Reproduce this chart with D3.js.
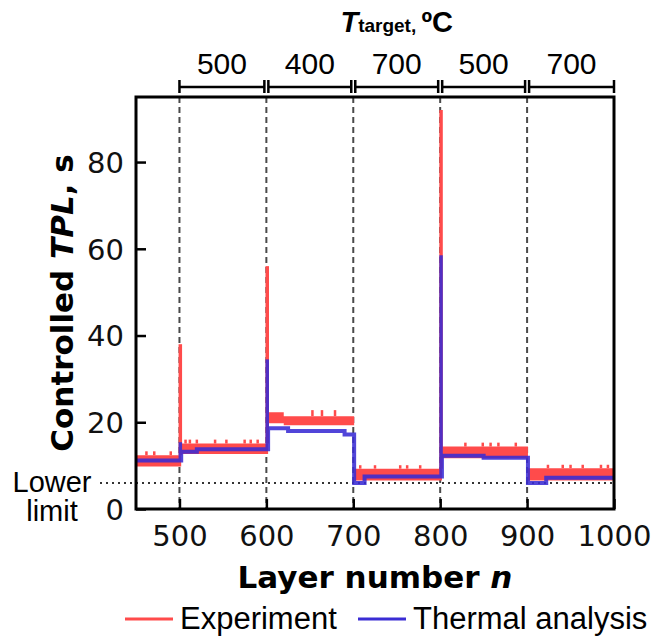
<!DOCTYPE html>
<html>
<head>
<meta charset="utf-8">
<script src="https://cdn.jsdelivr.net/npm/d3@7"></script>
<style>
  body { margin: 0; background: #fff; }
  svg { display: block; }
  .tick text { font-family: "DejaVu Sans", sans-serif; font-size: 29px; fill: #111; }
  .tick line { stroke: #000; stroke-width: 2.5; }
</style>
</head>
<body>
<div id="chart"></div>
<script>
// ---- data ----
// target temperature blocks (layer boundaries, temperature in each block)
var blockBounds = [500, 600, 700, 800, 900, 1000];
var blockTemps = [500, 400, 700, 500, 700];

// experiment: scatter band per block (start layer, lower, upper)
var expStart = [450, 502, 602, 620, 701, 802, 901];
var expLow   = [9.8, 12.7, 19.8, 19.3, 6.6, 11.7, 6.6];
var expHigh  = [12.4, 15.1, 22.3, 21.4, 9.3, 14.4, 9.4];
// small upward excursions of the experimental TPL
var expSpikeN   = [462, 471, 490, 507, 512, 520, 541, 554, 575, 582, 590, 653, 664, 679, 708, 725, 754, 762, 777, 829, 849, 858, 867, 887, 924, 941, 950, 964, 985, 993];
var expSpikeVal = [13.3, 13.3, 13.3, 16.0, 16.0, 16.0, 16.0, 16.0, 16.0, 16.0, 16.0, 22.8, 22.8, 22.8, 10.1, 10.1, 10.1, 10.1, 10.1, 15.3, 15.3, 15.3, 15.3, 15.3, 10.2, 10.2, 10.2, 10.2, 10.2, 10.2];

// first layer after a temperature change: peaks
var peakN    = [501, 601, 801];
var expPeak  = [38, 56, 92];
var thPeak   = [15.4, 34.5, 58.5];

// thermal analysis: step values (start layer, TPL)
var thStart = [450, 502, 520, 602, 625, 690, 701, 713, 802, 850, 901, 922];
var thValue = [11.2, 13.2, 13.8, 18.6, 18.0, 17.2, 6.0, 7.5, 12.3, 11.8, 6.0, 7.2];

var lowerLimit = 6;
var xTicks = [500, 600, 700, 800, 900, 1000];
var yTicks = [0, 20, 40, 60, 80];

var redColor = '#ff4b4b';
var blueColor = '#3a2cd4';

//note: window.top is read-only so keep plot box in its own object
var box = {width: 657, height: 638, left: 136, right: 614, top: 97, bottom: 509};

var svg = d3.select('#chart').append('svg')
  .attr('width', box.width)
  .attr('height', box.height);

var x = d3.scaleLinear().domain([450, 1000]).range([box.left, box.right]);
var y = d3.scaleLinear().domain([0, 95]).range([box.bottom, box.top]);

//block boundaries as dashed lines
svg.append('g').selectAll('line')
  .data(blockBounds.slice(0, -1))
  .join('line')
  .attr('x1', function (d) { return x(d); })
  .attr('x2', function (d) { return x(d); })
  .attr('y1', box.top)
  .attr('y2', box.bottom)
  .attr('stroke', '#4a4a4a')
  .attr('stroke-width', 2)
  .attr('stroke-dasharray', '6,4');

//lower limit dotted line, starts right after the "Lower" text
svg.append('line')
  .attr('x1', 100)
  .attr('x2', box.right)
  .attr('y1', y(lowerLimit))
  .attr('y2', y(lowerLimit))
  .attr('stroke', '#333')
  .attr('stroke-width', 2.2)
  .attr('stroke-dasharray', '2,4');

// experiment band
var expPts = expStart.map(function (n, i) { return {n: n, lo: expLow[i], hi: expHigh[i]}; });
expPts.push({n: 1000, lo: expLow[expLow.length - 1], hi: expHigh[expHigh.length - 1]});

var band = d3.area()
  .curve(d3.curveStepAfter)
  .x(function (d) { return x(d.n); })
  .y0(function (d) { return y(d.lo); })
  .y1(function (d) { return y(d.hi); });

svg.append('path')
  .datum(expPts)
  .attr('d', band)
  .attr('fill', redColor);

//little spikes above the band
function bandTop(n) {
  var i = d3.bisectRight(expStart, n) - 1;
  return expHigh[Math.max(i, 0)];
}
svg.append('g').selectAll('line')
  .data(expSpikeN)
  .join('line')
  .attr('x1', function (d) { return x(d); })
  .attr('x2', function (d) { return x(d); })
  .attr('y1', function (d) { return y(bandTop(d)); })
  .attr('y2', function (d, i) { return y(expSpikeVal[i]); })
  .attr('stroke', redColor)
  .attr('stroke-width', 2.5);

//big peaks in experiment
svg.append('g').selectAll('line')
  .data(peakN)
  .join('line')
  .attr('x1', function (d) { return x(d); })
  .attr('x2', function (d) { return x(d); })
  .attr('y1', function (d) { return y(bandTop(d - 2)); })
  .attr('y2', function (d, i) { return y(expPeak[i]); })
  .attr('stroke', redColor)
  .attr('stroke-width', 3.5);

// thermal analysis
var thPts = thStart.map(function (n, i) { return {n: n, v: thValue[i]}; });
thPts.push({n: 1000, v: thValue[thValue.length - 1]});

var line = d3.line()
  .curve(d3.curveStepAfter)
  .x(function (d) { return x(d.n); })
  .y(function (d) { return y(d.v); });

var thGroup = svg.append('g').attr('opacity', 0.88);
thGroup.append('path')
  .datum(thPts)
  .attr('d', line)
  .attr('fill', 'none')
  .attr('stroke', blueColor)
  .attr('stroke-width', 4);

thGroup.selectAll('line.peak')
  .data(peakN)
  .join('line')
  .classed('peak', true)
  .attr('x1', function (d) { return x(d); })
  .attr('x2', function (d) { return x(d); })
  .attr('y1', function (d, i) { return y(thValue[d3.bisectRight(thStart, d - 2) - 1]); })
  .attr('y2', function (d, i) { return y(thPeak[i]); })
  .attr('stroke', blueColor)
  .attr('stroke-width', 3.5);

//axes with inward ticks
var xAxis = d3.axisBottom(x).tickValues(xTicks).tickSize(-10).tickPadding(16).tickFormat(d3.format('d'));
var gx = svg.append('g').attr('transform', 'translate(0,' + box.bottom + ')').call(xAxis);
gx.select('.domain').remove();

var yAxis = d3.axisLeft(y).tickValues(yTicks).tickSize(-10).tickPadding(12);
var gy = svg.append('g').attr('transform', 'translate(' + box.left + ',0)').call(yAxis);
gy.select('.domain').remove();
gy.selectAll('.tick text').attr('dy', '0.36em');

//frame
svg.append('rect')
  .attr('x', box.left)
  .attr('y', box.top)
  .attr('width', box.right - box.left)
  .attr('height', box.bottom - box.top)
  .attr('fill', 'none')
  .attr('stroke', '#000')
  .attr('stroke-width', 3);

//axis titles
var yTitle = svg.append('text')
  .attr('transform', 'translate(73,' + (box.top + box.bottom) / 2 + ') rotate(-90)')
  .attr('text-anchor', 'middle')
  .style('font-family', '"DejaVu Sans", sans-serif')
  .style('font-weight', 'bold')
  .style('font-size', '31px');
yTitle.append('tspan').text('Controlled ');
yTitle.append('tspan').style('font-style', 'italic').text('TPL');
yTitle.append('tspan').text(', s');

var xTitle = svg.append('text')
  .attr('x', 375)
  .attr('y', 588)
  .attr('text-anchor', 'middle')
  .style('font-family', '"DejaVu Sans", sans-serif')
  .style('font-weight', 'bold')
  .style('font-size', '31px');
xTitle.append('tspan').text('Layer number ');
xTitle.append('tspan').style('font-style', 'italic').text('n');

//Lower limit label
var llText = svg.append('g')
  .style('font-family', '"Liberation Sans", Arial, sans-serif')
  .style('font-size', '29px')
  .attr('text-anchor', 'middle');
llText.append('text').attr('x', 52).attr('y', 492).text('Lower');
llText.append('text').attr('x', 52).attr('y', 521).text('limit');

//top bracket with target temperatures
var bracketY = 87;
var bracket = svg.append('g')
  .attr('stroke', '#000')
  .attr('stroke-width', 2.5);
blockTemps.forEach(function (t, i) {
  var x0 = x(blockBounds[i]) + (i > 0 ? 2 : 0);
  var x1 = x(blockBounds[i + 1]) - (i < blockTemps.length - 1 ? 2 : 0);
  bracket.append('line').attr('x1', x0).attr('x2', x1).attr('y1', bracketY).attr('y2', bracketY);
  bracket.append('line').attr('x1', x0).attr('x2', x0).attr('y1', bracketY - 7).attr('y2', bracketY + 6);
  bracket.append('line').attr('x1', x1).attr('x2', x1).attr('y1', bracketY - 7).attr('y2', bracketY + 6);
  svg.append('text')
    .attr('x', (x0 + x1) / 2)
    .attr('y', 74)
    .attr('text-anchor', 'middle')
    .style('font-family', '"Liberation Sans", Arial, sans-serif')
    .style('font-size', '30px')
    .text(t);
});

var tTitle = svg.append('text')
  .attr('x', (x(blockBounds[0]) + x(blockBounds[blockBounds.length - 1])) / 2)
  .attr('y', 32)
  .attr('text-anchor', 'middle')
  .style('font-family', '"Liberation Sans", Arial, sans-serif')
  .style('font-weight', 'bold');
tTitle.append('tspan').style('font-style', 'italic').style('font-size', '29px').text('T');
tTitle.append('tspan').style('font-size', '19px').text('target, ');
tTitle.append('tspan').style('font-size', '29px').text('ºC');

//legend
var legendItems = [
  {name: 'Experiment', color: redColor, x: 125},
  {name: 'Thermal analysis', color: blueColor, x: 358}
];
var legend = svg.append('g');
legendItems.forEach(function (item) {
  legend.append('line')
    .attr('x1', item.x).attr('x2', item.x + 48)
    .attr('y1', 619).attr('y2', 619)
    .attr('stroke', item.color)
    .attr('stroke-width', 3);
  legend.append('text')
    .attr('x', item.x + 55)
    .attr('y', 629)
    .style('font-family', '"Liberation Sans", Arial, sans-serif')
    .style('font-size', '31px')
    .text(item.name);
});
</script>
</body>
</html>
